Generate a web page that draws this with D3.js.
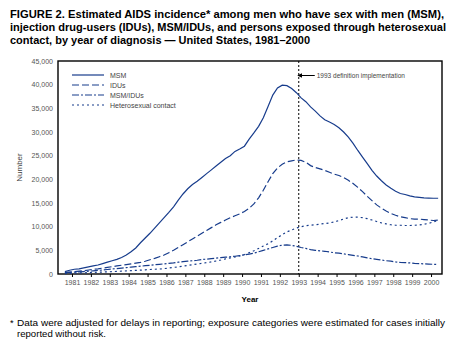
<!DOCTYPE html>
<html>
<head>
<meta charset="utf-8">
<script src="https://cdn.jsdelivr.net/npm/d3@7"></script>
<style>
  body { margin: 0; background: #fff; }
  svg { font-family: "Liberation Sans", Arial, Helvetica, sans-serif; }
</style>
</head>
<body>
<div id="chart"></div>
<script>
// Years of diagnosis, four quarterly estimates per year
const years = d3.range(1981, 2001);

const msm = [
  500, 800, 1000, 1100,   1300, 1500, 1700, 1900,   2200, 2500, 2800, 3100,
  3500, 4000, 4700, 5500,   6600, 7600, 8600, 9700,   10800, 11900, 13000, 14200,
  15600, 16900, 18000, 18900,   19600, 20400, 21200, 22000,   22800, 23600, 24400, 25000,
  25900, 26400, 27000, 28500,   29800, 31200, 33000, 35400,   37800, 39300, 39900, 39800,
  39200, 38300, 37200, 36400,   35300, 34400, 33400, 32600,   32100, 31600, 30900, 30000,
  28900, 27600, 26100, 24700,   23300, 21900, 20700, 19700,   18800, 18100, 17500, 17000,
  16800, 16500, 16300, 16200,   16100, 16050, 16000, 16000
];

const idu = [
  300, 400, 500, 600,   700, 850, 1000, 1100,   1250, 1400, 1550, 1700,
  1850, 2000, 2150, 2300,   2450, 2700, 3000, 3300,   3650, 4000, 4500, 5000,
  5600, 6200, 6800, 7400,   8000, 8600, 9200, 9800,   10400, 10900, 11400, 11900,
  12300, 12700, 13200, 13900,   14800, 16100, 17700, 19500,   21200, 22400, 23200, 23700,
  23900, 24100, 24000, 23600,   22900, 22500, 22200, 21900,   21500, 21100, 20800, 20400,
  19800, 19100, 18300, 17400,   16400, 15500, 14600, 13900,   13300, 12800, 12400, 12100,
  11900, 11700, 11600, 11600,   11500, 11400, 11300, 11400
];

const msmIdu = [
  300, 350, 400, 450,   520, 600, 680, 750,   850, 950, 1050, 1150,
  1250, 1350, 1450, 1550,   1650, 1750, 1850, 1950,   2050, 2150, 2250, 2350,
  2500, 2600, 2700, 2800,   2900, 3050, 3150, 3250,   3350, 3450, 3550, 3650,
  3750, 3900, 4050, 4200,   4400, 4700, 5000, 5300,   5600, 5900, 6100, 6150,
  6050, 5850, 5600, 5400,   5150, 5000, 4900, 4800,   4650, 4500, 4400, 4250,
  4100, 3950, 3800, 3600,   3400, 3250, 3100, 2950,   2800, 2700, 2550, 2450,
  2400, 2350, 2250, 2200,   2150, 2100, 2050, 2000
];

const hetero = [
  100, 150, 200, 230,   260, 300, 340, 380,   420, 460, 500, 550,
  600, 650, 700, 760,   820, 880, 950, 1000,   1050, 1150, 1250, 1400,
  1500, 1650, 1800, 1950,   2100, 2250, 2400, 2550,   2750, 2950, 3200, 3400,
  3600, 3800, 4100, 4500,   4900, 5400, 5900, 6400,   7000, 7700, 8300, 8900,
  9300, 9700, 10000, 10200,   10300, 10400, 10550, 10650,   10800, 11000, 11300, 11600,
  11900, 12000, 12000, 11900,   11700, 11400, 11100, 10800,   10600, 10400, 10300, 10300,
  10250, 10250, 10300, 10350,   10500, 10700, 11000, 11400
];

const yTicks = d3.range(0, 45001, 5000);
const seriesNames = ["MSM", "IDUs", "MSM/IDUs", "Heterosexual contact"];
const seriesValues = [msm, idu, msmIdu, hetero];
const dashes = [null, "7,3", "7,2,2,2", "2,3"];

const titleLines = [
  "FIGURE 2. Estimated AIDS incidence* among men who have sex with men (MSM),",
  "injection drug-users (IDUs), MSM/IDUs, and persons exposed through heterosexual",
  "contact, by year of diagnosis \u2014 United States, 1981\u20132000"
];
const titleWidths = [434, 436, 300];
const noteLines = [
  "Data were adjusted for delays in reporting; exposure categories were estimated for cases initially",
  "reported without risk."
];
const noteWidths = [428, 89];

const width = 457, height = 349;
const plot = { left: 58, right: 442, top: 61, bottom: 274 };
const lineColor = "#173c8c";

const svg = d3.select("#chart").append("svg")
  .attr("width", width)
  .attr("height", height);

// Title
svg.append("g").selectAll("text")
  .data(titleLines)
  .enter().append("text")
  .attr("x", 10)
  .attr("y", (d, i) => 18 + i * 13)
  .attr("textLength", (d, i) => titleWidths[i])
  .attr("lengthAdjust", "spacingAndGlyphs")
  .style("font-size", "11px")
  .style("font-weight", "bold")
  .text(d => d);

// Scales: each year's label sits at mid-year
const x = d3.scaleLinear()
  .domain([1980.76, 2001.08])
  .range([plot.left, plot.right]);

const y = d3.scaleLinear()
  .domain([0, 45000])
  .range([plot.bottom, plot.top]);

// Quarterly points
const series = seriesValues.map((vals, s) => ({
  name: seriesNames[s],
  dash: dashes[s],
  points: vals.map((v, i) => ({ t: years[Math.floor(i / 4)] + ((i % 4) + 0.5) / 4, v }))
}));

// Y axis
const yAxis = svg.append("g")
  .attr("transform", `translate(${plot.left},0)`)
  .call(d3.axisLeft(y).tickValues(yTicks).tickSize(0).tickPadding(5).tickFormat(d3.format(",")));
yAxis.select(".domain").remove();
yAxis.selectAll("text")
  .style("font-family", "'Liberation Sans', Arial, sans-serif")
  .style("font-size", "7px")
  .style("fill", "#555");

// X axis
const xAxis = svg.append("g")
  .attr("transform", `translate(0,${plot.bottom})`)
  .call(d3.axisBottom(x).tickValues(years.map(d => d + 0.5)).tickSize(3).tickPadding(3)
    .tickFormat(d => String(Math.floor(d))));
xAxis.select(".domain").remove();
xAxis.selectAll("line").attr("stroke", "#000");
xAxis.selectAll("text")
  .style("font-family", "'Liberation Sans', Arial, sans-serif")
  .style("font-size", "7px")
  .style("fill", "#555");

// Plot frame
svg.append("rect")
  .attr("x", plot.left)
  .attr("y", plot.top)
  .attr("width", plot.right - plot.left)
  .attr("height", plot.bottom - plot.top)
  .attr("fill", "none")
  .attr("stroke", "#000")
  .attr("stroke-width", 1.4);

// Axis titles
svg.append("text")
  .attr("transform", `translate(22,${(plot.top + plot.bottom) / 2}) rotate(-90)`)
  .attr("text-anchor", "middle")
  .style("font-size", "8px")
  .style("fill", "#444")
  .text("Number");

svg.append("text")
  .attr("x", (plot.left + plot.right) / 2)
  .attr("y", 302)
  .attr("text-anchor", "middle")
  .style("font-size", "8px")
  .style("font-weight", "bold")
  .text("Year");

// 1993 definition marker
svg.append("line")
  .attr("x1", x(1993.5)).attr("x2", x(1993.5))
  .attr("y1", plot.top).attr("y2", plot.bottom)
  .attr("stroke", "#000")
  .attr("stroke-width", 1)
  .attr("stroke-dasharray", "2,2");

svg.append("defs").append("marker")
  .attr("id", "arrow")
  .attr("viewBox", "0 0 10 10")
  .attr("refX", 1).attr("refY", 5)
  .attr("markerWidth", 5).attr("markerHeight", 5)
  .attr("orient", "auto-start-reverse")
  .append("path")
  .attr("d", "M0,0L10,5L0,10Z")
  .attr("fill", "#000");

svg.append("line")
  .attr("x1", x(1993.5) + 3).attr("x2", x(1993.5) + 16)
  .attr("y1", 75.5).attr("y2", 75.5)
  .attr("stroke", "#000")
  .attr("stroke-width", 1)
  .attr("marker-start", "url(#arrow)");

svg.append("text")
  .attr("x", x(1993.5) + 18)
  .attr("y", 78)
  .style("font-size", "6.5px")
  .style("fill", "#444")
  .text("1993 definition implementation");

// Series lines
const line = d3.line()
  .x(d => x(d.t))
  .y(d => y(d.v));

svg.append("g").selectAll("path")
  .data(series)
  .enter().append("path")
  .attr("d", d => line(d.points))
  .attr("fill", "none")
  .attr("stroke", lineColor)
  .attr("stroke-width", 1.2)
  .attr("stroke-dasharray", d => d.dash);

// Legend
const legend = svg.append("g")
  .selectAll("g")
  .data(series)
  .enter().append("g")
  .attr("transform", (d, i) => `translate(72,${75 + i * 10})`);

legend.append("line")
  .attr("x1", 0).attr("x2", 32)
  .attr("stroke", lineColor)
  .attr("stroke-width", 1.2)
  .attr("stroke-dasharray", d => d.dash);

legend.append("text")
  .attr("x", 38)
  .attr("y", 2.5)
  .style("font-size", "7px")
  .style("fill", "#444")
  .text(d => d.name);

// Footnote
svg.append("text")
  .attr("x", 10)
  .attr("y", 326)
  .style("font-size", "9.4px")
  .text("*");

svg.append("g").selectAll("text")
  .data(noteLines)
  .enter().append("text")
  .attr("x", 17)
  .attr("y", (d, i) => 326 + i * 11)
  .attr("textLength", (d, i) => noteWidths[i])
  .attr("lengthAdjust", "spacingAndGlyphs")
  .style("font-size", "9.4px")
  .text(d => d);
</script>
</body>
</html>
